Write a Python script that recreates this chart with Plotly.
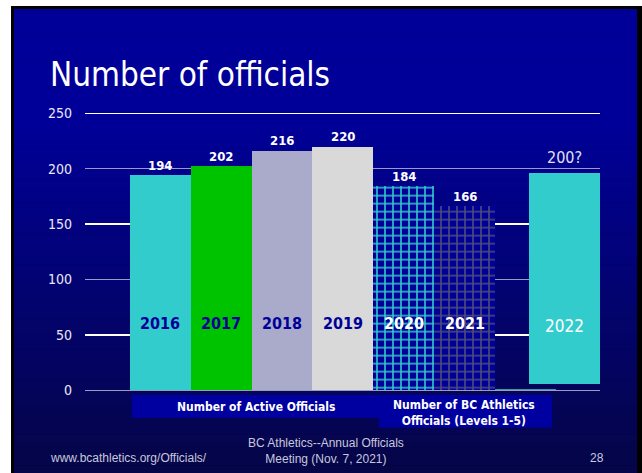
import plotly.graph_objects as go

W, H = 642, 473

# ---- data ----
years = ["2016", "2017", "2018", "2019", "2020", "2021"]
officials = [194, 202, 216, 220, 184, 166]
spacer_value = [1]            # thin teal sliver in the gap slot
forecast_year = "2022"
forecast_low = 6
forecast_high = 196
forecast_label = "200?"
group_labels = ["Number of Active Officials",
                "Number of BC Athletics<br>Officials (Levels 1-5)"]
y_ticks_white = [50, 150, 250]
y_ticks_gray = [0, 100, 200]

# ---- styles ----
bar_colors = ["#33cccc", "#00c300", "#aaaacb", "#d9d9d9", "#000099", "#000099"]
patterns = [None, None, None, None,
            dict(shape="+", fgcolor="#33cccc", bgcolor="#000099", size=8, solidity=0.35, fillmode="replace"),
            dict(shape="+", fgcolor="#4e4e78", bgcolor="#000099", size=8, solidity=0.35, fillmode="replace")]
year_font_colors = ["#000099", "#000099", "#000099", "#000099", "white", "white"]
COND = "DejaVu Sans Condensed, DejaVu Sans, sans-serif"
ARIAL = "Liberation Sans, Arial, sans-serif"

# plot-area in pixels
px_left, px_right = 85, 600
ppu = 277.0 / 250.0          # pixels per unit
px_zero = 390.3
y_lo, y_hi = -1.5, 251.5
px_bottom = px_zero + (0 - y_lo) * ppu
px_top = px_zero - (y_hi - 0) * ppu
slot_px = 60.83
x0_center_px = 160.4

def px2x(p):
    return (p - x0_center_px) / slot_px

x_range = [px2x(px_left), px2x(px_right)]

def fx(p):
    return p / W

def fy(p):
    return 1 - p / H

fig = go.Figure()

# background decorations (slide frame and gradient)
shapes = []
shapes.append(dict(type="rect", xref="paper", yref="paper", x0=fx(11), x1=1, y0=0, y1=fy(6),
                   fillcolor="black", line_width=0, layer="below"))
n_bands = 60
top_c = (0, 0, 153)
bot_c = (5, 5, 72)
g_start, g_end = 9, H
for i in range(n_bands):
    a = g_start + (g_end - g_start) * i / n_bands
    b = g_start + (g_end - g_start) * (i + 1) / n_bands
    mid = (a + b) / 2
    t = max(0.0, (mid - 115) / (H - 115))
    c = tuple(int(round(top_c[k] + (bot_c[k] - top_c[k]) * t)) for k in range(3))
    shapes.append(dict(type="rect", xref="paper", yref="paper", x0=fx(14), x1=fx(637),
                       y0=fy(b + 0.5), y1=fy(a), fillcolor="rgb(%d,%d,%d)" % c,
                       line_width=0, layer="below"))

# category boxes under the axis
shapes.append(dict(type="rect", xref="paper", yref="paper", x0=fx(131.7), x1=fx(380),
                   y0=fy(417.7), y1=fy(395), fillcolor="#0000a0", line_width=0, layer="below"))
shapes.append(dict(type="rect", xref="paper", yref="paper", x0=fx(379), x1=fx(552),
                   y0=fy(427.5), y1=fy(395), fillcolor="#0000a0", line_width=0, layer="below"))

# bars
for i, (yr, v) in enumerate(zip(years, officials)):
    marker = dict(color=bar_colors[i], line=dict(width=0))
    if patterns[i]:
        marker["pattern"] = patterns[i]
    fig.add_trace(go.Bar(x=[i], y=[v], width=1, marker=marker, showlegend=False,
                         hoverinfo="skip"))

# thin sliver in slot 6
fig.add_trace(go.Bar(x=[len(years)], y=spacer_value, width=1,
                     marker=dict(color="#2f9f9f", line=dict(width=0)),
                     showlegend=False, hoverinfo="skip"))

# forecast bar
fc_center = px2x(564.5)
fc_width = 71 / slot_px
fig.add_trace(go.Bar(x=[fc_center], y=[forecast_high - forecast_low], base=[forecast_low],
                     width=fc_width, marker=dict(color="#33cccc", line=dict(width=0)),
                     showlegend=False, hoverinfo="skip"))

annotations = []
for i, (yr, v) in enumerate(zip(years, officials)):
    annotations.append(dict(x=i, y=v, xref="x", yref="y", text=str(v), showarrow=False,
                            yanchor="middle", yshift=10,
                            font=dict(family=COND, size=13, color="white", weight="bold")))
    annotations.append(dict(x=i, y=60, xref="x", yref="y", text=yr, showarrow=False,
                            yanchor="middle",
                            font=dict(family=COND, size=16, color=year_font_colors[i], weight="bold")))
annotations.append(dict(x=fc_center, y=forecast_high, xref="x", yref="y", text=forecast_label,
                        showarrow=False, yanchor="middle", yshift=16,
                        font=dict(family=COND, size=16, color="#e0e0f0")))
annotations.append(dict(x=fc_center, y=58, xref="x", yref="y", text=forecast_year,
                        showarrow=False, yanchor="middle",
                        font=dict(family=COND, size=17, color="white")))

# title
annotations.append(dict(x=fx(48), y=fy(74), xref="paper", yref="paper", text="Number of officials",
                        showarrow=False, xanchor="left", yanchor="middle",
                        font=dict(family=COND, size=33, color="white")))
# group labels
annotations.append(dict(x=fx(256), y=fy(406.5), xref="paper", yref="paper", text=group_labels[0],
                        showarrow=False, xanchor="center", yanchor="middle",
                        font=dict(family=COND, size=12, color="white", weight="bold")))
annotations.append(dict(x=fx(464), y=fy(413), xref="paper", yref="paper", text=group_labels[1],
                        showarrow=False, xanchor="center", yanchor="middle",
                        font=dict(family=COND, size=12, color="white", weight="bold")))
# footer
annotations.append(dict(x=fx(48), y=fy(458), xref="paper", yref="paper",
                        text="www.bcathletics.org/Officials/", showarrow=False,
                        xanchor="left", yanchor="middle",
                        font=dict(family=ARIAL, size=12, color="#c8c8dc")))
annotations.append(dict(x=fx(326), y=fy(450.5), xref="paper", yref="paper",
                        text="BC Athletics--Annual Officials<br>Meeting (Nov. 7, 2021)", showarrow=False,
                        xanchor="center", yanchor="middle",
                        font=dict(family=ARIAL, size=12, color="#c8c8dc")))
annotations.append(dict(x=fx(597), y=fy(458), xref="paper", yref="paper", text="28",
                        showarrow=False, xanchor="center", yanchor="middle",
                        font=dict(family=ARIAL, size=12, color="#c8c8dc")))

axis_font = dict(family=COND, size=14, color="#e8e8f4")
fig.update_layout(
    template="none",
    width=W, height=H,
    margin=dict(l=0, r=0, t=0, b=0, pad=0, autoexpand=False),
    paper_bgcolor="white",
    plot_bgcolor="rgba(0,0,0,0)",
    barmode="overlay",
    bargap=0,
    showlegend=False,
    shapes=shapes,
    annotations=annotations,
    xaxis=dict(domain=[fx(px_left), fx(px_right)], range=x_range, showgrid=False,
               showticklabels=False, zeroline=False, showline=False, ticks="", automargin=False),
    yaxis=dict(domain=[fy(px_bottom), fy(px_top)], range=[y_lo, y_hi], tickvals=y_ticks_white,
               gridcolor="white", gridwidth=1.5, zeroline=False, showline=False,
               tickfont=axis_font, ticks="", ticklabelstandoff=12, automargin=False),
    yaxis2=dict(overlaying="y", range=[y_lo, y_hi], tickvals=y_ticks_gray, side="left",
                gridcolor="#9a9ac4", gridwidth=1.5, zeroline=False, showline=False,
                tickfont=axis_font, ticks="", ticklabelstandoff=12, automargin=False),
)
# dummy trace to activate yaxis2
fig.add_trace(go.Scatter(x=[None], y=[None], yaxis="y2", showlegend=False, hoverinfo="skip"))

post = "document.body.style.margin='0';document.body.style.overflow='hidden';"
fig.write_html("out.html", config={"displayModeBar": False, "staticPlot": True},
               post_script=post)
